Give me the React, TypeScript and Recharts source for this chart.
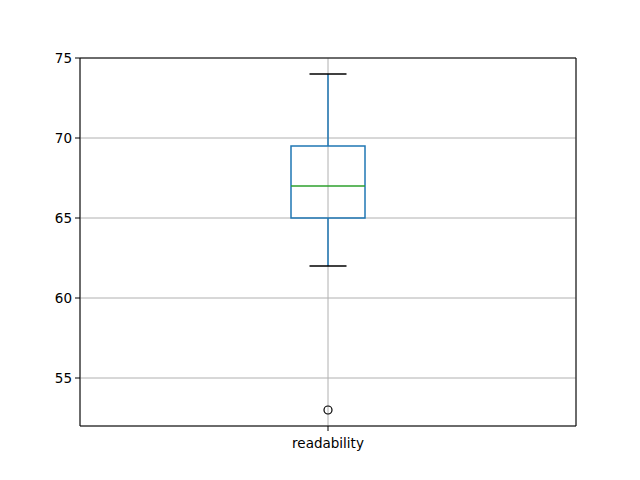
import { ComposedChart, Bar, Scatter, XAxis, YAxis, CartesianGrid } from 'recharts';

// readability distribution summary
const categories = ['readability'];
const whiskerLow = [62];
const quartile1 = [65];
const medians = [67];
const quartile3 = [69.5];
const whiskerHigh = [74];
const outliers = [53];
const yTicks = [55, 60, 65, 70, 75];

const data = categories.map((name, i) => ({
  name,
  min: whiskerLow[i],
  q1: quartile1[i],
  median: medians[i],
  q3: quartile3[i],
  max: whiskerHigh[i],
  outlier: outliers[i],
}));

const BLUE = '#1f77b4';
const GREEN = '#2ca02c';

// draws whiskers, caps, box and median from the [min, max] bar geometry
const BoxShape = (props: any) => {
  const { x, y, width, height, payload } = props;
  const { min, q1, median, q3, max } = payload;
  const pxPerUnit = height / (max - min);
  const toY = (v: number) => y + (max - v) * pxPerUnit;
  const cx = x + width / 2;
  const capHalf = width / 4;
  return (
    <g>
      <line x1={cx} x2={cx} y1={toY(max)} y2={toY(q3)} stroke={BLUE} strokeWidth={1.5} />
      <line x1={cx} x2={cx} y1={toY(q1)} y2={toY(min)} stroke={BLUE} strokeWidth={1.5} />
      <line x1={cx - capHalf} x2={cx + capHalf} y1={toY(max)} y2={toY(max)} stroke="#000" strokeWidth={1.5} />
      <line x1={cx - capHalf} x2={cx + capHalf} y1={toY(min)} y2={toY(min)} stroke="#000" strokeWidth={1.5} />
      <rect x={x} y={toY(q3)} width={width} height={toY(q1) - toY(q3)} fill="none" stroke={BLUE} strokeWidth={1.5} />
      <line x1={x} x2={x + width} y1={toY(median)} y2={toY(median)} stroke={GREEN} strokeWidth={1.5} />
    </g>
  );
};

const OutlierShape = (props: any) => {
  const { cx, cy } = props;
  return <circle cx={cx} cy={cy} r={4} fill="none" stroke="#000" strokeWidth={1.2} />;
};

const tickStyle = { fill: '#000', fontSize: 13.5, fontFamily: 'DejaVu Sans' };

export default function App() {
  return (
    <div style={{ position: 'absolute', left: 0, top: 0, width: 640, height: 480, background: '#fff' }}>
      <ComposedChart
        width={640}
        height={480}
        data={data}
        margin={{ top: 57, right: 63, bottom: 24, left: 40 }}
      >
        <CartesianGrid stroke="#b0b0b0" strokeWidth={1} />
        <XAxis
          dataKey="name"
          type="category"
          height={30}
          tick={tickStyle}
          tickSize={5}
          tickMargin={7}
          axisLine={{ stroke: '#000' }}
          tickLine={{ stroke: '#000' }}
        />
        <XAxis xAxisId="top" orientation="top" dataKey="name" height={1} tick={false} tickLine={false} axisLine={{ stroke: '#000' }} />
        <YAxis
          type="number"
          domain={[52, 75]}
          ticks={yTicks}
          allowDataOverflow
          width={40}
          tick={tickStyle}
          tickSize={5}
          tickMargin={3}
          axisLine={{ stroke: '#000' }}
          tickLine={{ stroke: '#000' }}
        />
        <YAxis yAxisId="right" orientation="right" domain={[52, 75]} width={1} tick={false} tickLine={false} axisLine={{ stroke: '#000' }} />
        <Bar dataKey={(d: any) => [d.min, d.max]} barSize={74} shape={BoxShape} isAnimationActive={false} />
        <Scatter dataKey="outlier" shape={OutlierShape} isAnimationActive={false} />
      </ComposedChart>
    </div>
  );
}
